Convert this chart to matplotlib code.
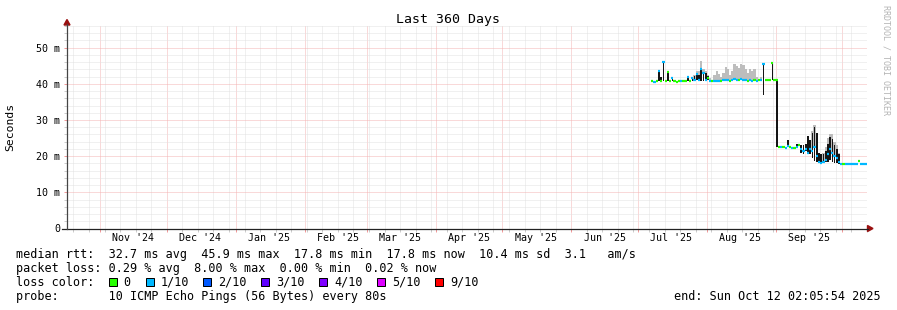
import datetime as dt
import matplotlib
matplotlib.use("Agg")
import matplotlib.pyplot as plt
import matplotlib.dates as mdates
from matplotlib.ticker import MultipleLocator, NullFormatter, FuncFormatter
from matplotlib.patches import Rectangle, Polygon

plt.rcParams["font.family"] = ["DejaVu Sans Mono"]

# ---- data (median rtt in ms, one value per day from 2025-07-07) ----
first_day = dt.datetime(2025, 7, 7)
median_ms = [40.7, 40.6, 40.7, 43.6, 40.7, 46.0, 40.8, 43.2, 40.7, 41.5,
             40.7, 40.6, 40.7, 40.7, 40.7, 40.8, 42.0, 40.7, 41.5, 41.2,
             42.8, 41.0, 44.1, 43.0, 41.0, 41.5, 40.8, 40.7, 40.8, 40.9,
             40.8, 40.9, 41.0, 41.0, 41.2, 40.9, 41.0, 41.3, 41.2, 41.0,
             41.4, 41.2, 41.0, 40.9, 41.0, 40.9, 41.0, 40.8, 41.0, 41.2,
             45.5, 41.1, 41.0, 41.1, 45.8, 41.2, 41.0, 22.6, 22.5, 22.6,
             22.4, 22.8, 22.5, 22.4, 22.3, 22.5, 23.0, 22.0, 21.5, 22.0,
             21.0, 22.0, 21.5, 22.5, 20.0, 18.3, 18.2, 18.5, 19.0, 20.5,
             22.0, 21.0, 20.0, 19.5, 18.5, 17.9, 17.9, 17.9, 17.8, 17.9,
             17.9, 17.8, 17.9, 18.8, 17.9, 17.8, 17.8]
loss_bucket = [0, 1, 0, 1, 0, 1, 0, 0, 0, 1,
               0, 0, 0, 1, 0, 0, 1, 0, 1, 1,
               1, 1, 1, 1, 1, 0, 1, 0, 1, 1,
               1, 0, 1, 1, 1, 0, 1, 1, 1, 0,
               1, 1, 1, 0, 1, 1, 0, 1, 0, 1,
               1, 0, 0, 0, 0, 0, 0, 0, 1, 0,
               1, 1, 0, 1, 0, 1, 0, 1, 1, 1,
               1, 1, 1, 1, 1, 1, 1, 1, 1, 1,
               1, 1, 1, 1, 1, 1, 0, 1, 1, 1,
               1, 1, 1, 0, 1, 1, 1]

# dark smoke (black columns): day index, low, high
spike_idx = [3, 4, 5, 7, 9, 16, 18, 19, 20, 21, 22, 23, 24, 25, 50, 54, 56,
             61, 65, 67, 68, 69, 70, 71, 72, 73, 74, 75, 76, 77, 78, 79, 80,
             81, 82, 83, 84]
spike_lo = [40.7, 40.7, 40.7, 40.7, 40.7, 40.7, 40.7, 40.8, 41.0, 41.0, 40.8,
            40.8, 41.0, 41.0, 36.9, 41.0, 22.6, 22.5, 22.3, 21.0, 20.7, 21.5,
            20.7, 20.5, 19.5, 18.8, 18.3, 18.2, 18.0, 18.2, 18.3, 18.5, 19.0,
            18.5, 18.2, 18.0, 17.9]
spike_hi = [43.6, 42.0, 46.2, 43.2, 41.5, 42.0, 41.5, 42.2, 42.8, 42.5, 44.1,
            43.0, 43.0, 42.3, 45.5, 45.8, 41.0, 24.6, 23.5, 23.0, 23.0, 23.5,
            25.7, 24.5, 26.5, 28.0, 26.5, 21.0, 20.7, 20.5, 21.5, 23.5, 25.2,
            24.8, 23.0, 22.1, 20.5]

# light smoke: day index, top of grey band
smoke_idx = [19, 20, 21, 22, 23, 24, 25, 26, 27, 28, 29, 30, 31, 32, 33, 34,
             35, 36, 37, 38, 39, 40, 41, 42, 43, 44, 45, 46, 47, 49, 72, 73,
             77, 78, 79, 80, 81, 82, 83, 84]
smoke_top = [42.5, 43.6, 43.6, 46.2, 44.0, 43.5, 42.5, 41.5, 41.2, 42.5, 43.6,
             42.8, 42.0, 43.0, 44.6, 44.0, 42.5, 43.5, 45.5, 45.0, 44.5, 45.6,
             45.2, 44.2, 43.0, 44.2, 43.5, 44.0, 42.0, 42.0, 27.0, 28.5, 21.0,
             22.5, 25.0, 26.2, 26.0, 24.0, 23.0, 21.0]

loss_labels = ["0", "1/10", "2/10", "3/10", "4/10", "5/10", "9/10"]
loss_colors = ["#26ff00", "#00b8ff", "#0059ff", "#5e00ff", "#7e00ff",
               "#dd00ff", "#ff0000"]

t_start = dt.datetime(2024, 10, 17, 2, 5, 54)
t_end = dt.datetime(2025, 10, 12, 2, 5, 54)

W, H = 897, 310
fig = plt.figure(figsize=(W / 100, H / 100), dpi=100)
fig.patch.set_facecolor("white")
ax = fig.add_axes([67 / W, (H - 228.5) / H, 800 / W, 202.5 / H])

x0 = mdates.date2num([first_day + dt.timedelta(days=i) for i in range(len(median_ms))])

# grey smoke
ax.bar([x0[i] + 0.5 for i in smoke_idx],
       [smoke_top[k] - median_ms[i] for k, i in enumerate(smoke_idx)],
       bottom=[median_ms[i] for i in smoke_idx], width=1.0,
       color="#bdbdbd", linewidth=0, zorder=3)
# dark smoke
ax.bar([x0[i] + 0.5 for i in spike_idx],
       [h - l for l, h in zip(spike_lo, spike_hi)],
       bottom=spike_lo, width=0.75, color="#151515", linewidth=0, zorder=4)
# median coloured by loss
ax.hlines(median_ms, x0, x0 + 1, colors=[loss_colors[b] for b in loss_bucket],
          linewidth=1.6, zorder=5)

ax.set_xlim(mdates.date2num(t_start), mdates.date2num(t_end))
ax.set_ylim(0, 56)
ax.xaxis_date()
ax.xaxis.set_major_locator(mdates.MonthLocator())
ax.xaxis.set_minor_locator(mdates.WeekdayLocator(byweekday=mdates.SU))
ax.xaxis.set_major_formatter(NullFormatter())
ax.xaxis.set_minor_formatter(NullFormatter())
ax.yaxis.set_major_locator(MultipleLocator(10))
ax.yaxis.set_minor_locator(MultipleLocator(2))
ax.yaxis.set_major_formatter(FuncFormatter(lambda v, p: "0" if v == 0 else f"{v:.0f} m"))

ax.grid(which="minor", color="#e2e2e2", linestyle=(0, (1, 1)), linewidth=0.72)
ax.grid(which="major", color="#f5b4b4", linestyle=(0, (1, 1)), linewidth=0.72)
ax.set_axisbelow(True)
ax.tick_params(which="major", length=2, width=0.72, color="#f29a9a", pad=3,
               labelsize=7.2)
ax.tick_params(which="minor", length=2, width=0.72, color="#cccccc")
for s in ax.spines.values():
    s.set_visible(False)

# month labels in the middle of each month
for m in range(11):
    d = dt.datetime(2024 + (10 + m) // 12, (10 + m) % 12 + 1, 16)
    ax.text(mdates.date2num(d), -0.045, d.strftime("%b '%y"),
            transform=ax.get_xaxis_transform(), ha="center", va="center",
            fontsize=7.2)

# overlay in pixel coordinates for axes, arrows and legend
ov = fig.add_axes([0, 0, 1, 1])
ov.set_xlim(0, W)
ov.set_ylim(H, 0)
ov.axis("off")
ov.plot([62, 868], [228.5, 228.5], color="#222222", lw=0.9)
ov.plot([67, 67], [228.5, 24], color="#444444", lw=0.9)
ov.add_patch(Polygon([[64, 25], [70, 25], [67, 19.5]], color="#9a1010"))
ov.add_patch(Polygon([[867.5, 225.5], [867.5, 231.5], [873, 228.5]], color="#9a1010"))

ov.text(448, 19.5, "Last 360 Days", ha="center", va="center", fontsize=9.5)
ov.text(10.7, 127, "Seconds", rotation=90, ha="center", va="center", fontsize=8.2)
ov.text(886, 60, "RRDTOOL / TOBI OETIKER", rotation=270, ha="center",
        va="center", fontsize=6, color="#b4b4b4")

fs = 8.5
ov.text(16, 254.3, "median rtt:  32.7 ms avg  45.9 ms max  17.8 ms min  "
        "17.8 ms now  10.4 ms sd  3.1   am/s", va="center", fontsize=fs)
ov.text(16, 268.3, "packet loss: 0.29 % avg  8.00 % max  0.00 % min  0.02 % now",
        va="center", fontsize=fs)
ov.text(16, 282.3, "loss color:", va="center", fontsize=fs)
box_x = [108.7, 145.7, 203.3, 261.3, 319.3, 377.3, 435.3]
for bx, lab, col in zip(box_x, loss_labels, loss_colors):
    ov.add_patch(Rectangle((bx, 278), 8, 8, facecolor=col, edgecolor="black",
                           linewidth=0.72))
    ov.text(bx + 14.8, 282.3, lab, va="center", fontsize=fs)
ov.text(16, 296.2, "probe:       10 ICMP Echo Pings (56 Bytes) every 80s",
        va="center", fontsize=fs)
ov.text(881, 296.2, "end: Sun Oct 12 02:05:54 2025", ha="right", va="center",
        fontsize=fs)

fig.savefig("out.png", dpi=100)
